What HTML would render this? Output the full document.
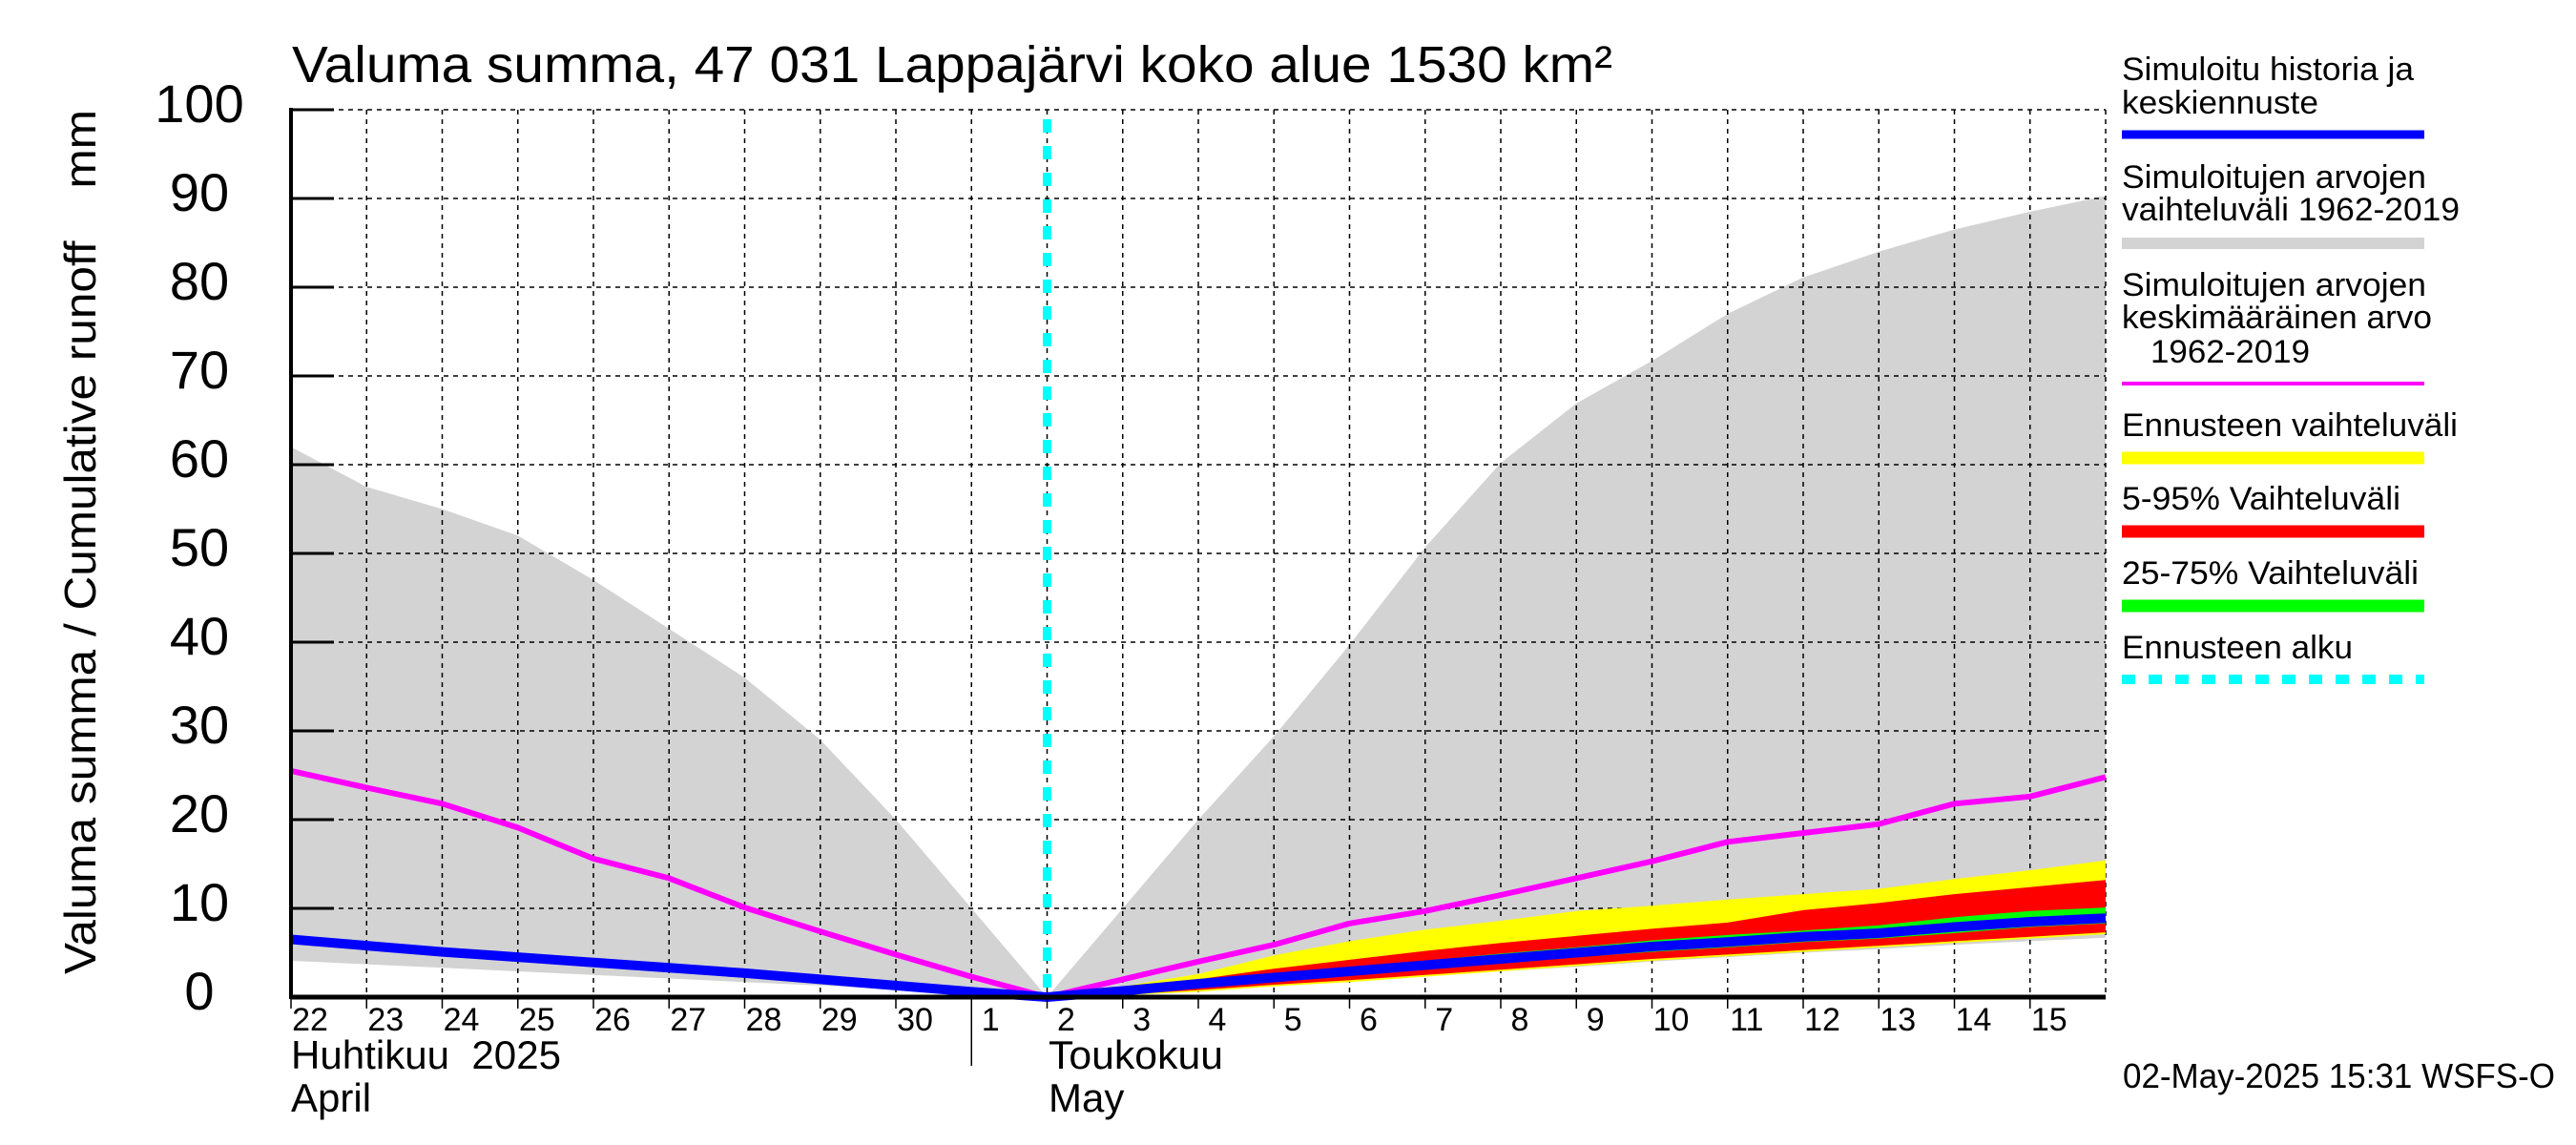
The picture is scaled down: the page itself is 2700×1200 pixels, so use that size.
<!DOCTYPE html>
<html><head><meta charset="utf-8"><style>
html,body{margin:0;padding:0;background:#fff;}
svg{display:block;}
text{font-family:"Liberation Sans",sans-serif;fill:#000;}
</style></head><body>
<svg id="chart" xmlns="http://www.w3.org/2000/svg" width="2700" height="1200" viewBox="0 0 2700 1200">
<rect x="0" y="0" width="2700" height="1200" fill="#fff"/>
<g id="plot"></g>
<text x="306" y="86" font-size="54" textLength="1384" lengthAdjust="spacingAndGlyphs">Valuma summa, 47 031 Lappajärvi koko alue 1530 km²</text>
<text transform="translate(100,568) rotate(-90)" text-anchor="middle" font-size="46" textLength="906" lengthAdjust="spacingAndGlyphs" xml:space="preserve">Valuma summa / Cumulative runoff    mm</text>
<text x="305" y="1120" font-size="42" textLength="283" lengthAdjust="spacingAndGlyphs" xml:space="preserve">Huhtikuu  2025</text>
<text x="305" y="1165" font-size="42">April</text>
<text x="1099" y="1120" font-size="42" textLength="183" lengthAdjust="spacingAndGlyphs">Toukokuu</text>
<text x="1099" y="1165" font-size="42">May</text>
<text x="2225" y="1140" font-size="36" textLength="453" lengthAdjust="spacingAndGlyphs">02-May-2025 15:31 WSFS-O</text>
<g id="legend"></g>
</svg>
<script>
// Data: day index 0 = 22 Apr 00:00 ... 24 = 16 May 00:00
const dayLabels = ["22","23","24","25","26","27","28","29","30","1","2","3","4","5","6","7","8","9","10","11","12","13","14","15"];
const yTicks = [0,10,20,30,40,50,60,70,80,90,100];
const grayUpper = [62,57.5,55,52,47,41.5,36,29,20,10,0,10,20,29.4,39.7,50.7,60.2,66.9,71.7,77,81.1,84,86.5,88.5,90.3];
const grayLower = [4.1,3.7,3.3,2.9,2.5,2.1,1.7,1.3,0.9,0.5,0,0.4,0.9,1.4,1.9,2.4,2.9,3.4,4.0,4.5,5.0,5.4,5.9,6.3,6.7];
const meanSeries = [25.5,23.6,21.8,19.1,15.6,13.4,10.1,7.4,4.8,2.3,0,2.0,4.0,5.9,8.3,9.7,11.5,13.4,15.3,17.5,18.5,19.5,21.8,22.6,24.8];
const historySeries = [6.5,5.8,5.1,4.5,3.9,3.3,2.7,2.0,1.3,0.6,0];
const forecastStart = 10;
const medianSeries = [0,0.7,1.5,2.2,2.9,3.6,4.3,5.0,5.7,6.2,6.8,7.2,7.9,8.5,8.9];
const yellowTop = [0,1.2,2.6,4.7,6.3,7.6,8.6,9.7,10.3,11.0,11.6,12.2,13.3,14.3,15.4];
const yellowBottom = [0,0.2,0.6,1.2,1.7,2.3,2.9,3.5,4.1,4.6,5.1,5.6,6.1,6.6,7.1];
const redTop = [0,0.9,2.0,3.2,4.2,5.2,6.1,6.9,7.7,8.4,9.8,10.6,11.6,12.4,13.2];
const redBottom = [0,0.3,0.8,1.4,1.9,2.5,3.1,3.7,4.3,4.8,5.3,5.8,6.3,6.8,7.3];
const greenTop = [0,0.9,1.8,2.6,3.4,4.1,4.9,5.6,6.4,7.0,7.5,8.1,9.0,9.7,10.1];
const greenBottom = [0,0.5,1.2,1.9,2.5,3.1,3.8,4.5,5.1,5.6,6.2,6.6,7.2,7.9,8.3];

const X0=305, DAY=79.25, Y0=1045, YS=9.3, XR=2207, YT=115;
const xs = i => X0 + i*DAY;
const ys = v => Y0 - v*YS;
const NS="http://www.w3.org/2000/svg";
const plot=document.getElementById('plot');
function mk(tag, attrs, parent){const e=document.createElementNS(NS,tag);for(const k in attrs)e.setAttribute(k,attrs[k]);(parent||plot).appendChild(e);return e;}
function pts(arr, off){return arr.map((v,i)=>xs(i+off).toFixed(1)+","+ys(v).toFixed(1));}
function band(top,bot,off,fill,name){
  const p=pts(top,off).concat(pts(bot,off).reverse()).join(" ");
  const e=mk('polygon',{points:p,fill:fill});
  
  
}
function line(arr,off,color,w,name){
  const e=mk('polyline',{points:pts(arr,off).join(" "),fill:"none",stroke:color,"stroke-width":w,"stroke-linejoin":"round"});
  
  
}
band(grayUpper,grayLower,0,"#d3d3d3","historical-range-band");
for(let i=1;i<=24;i++){
  const g=mk('line',{x1:xs(i),y1:YT,x2:xs(i),y2:Y0,stroke:"#000","stroke-width":1.5,"stroke-dasharray":"5,5"});
  
  
}
yTicks.forEach(t=>{
  if(t===0)return;
  const g=mk('line',{x1:X0,y1:ys(t),x2:XR,y2:ys(t),stroke:"#000","stroke-width":1.5,"stroke-dasharray":"5,5"});
  
  
});
band(yellowTop,yellowBottom,forecastStart,"#ffff00","forecast-range-band");
band(redTop,redBottom,forecastStart,"#ff0000","forecast-5-95-band");
band(greenTop,greenBottom,forecastStart,"#00ff00","forecast-25-75-band");
line(meanSeries,0,"#ff00ff",6,"mean-line");
line(historySeries,0,"#0000ff",10,"history-line");
line(medianSeries,forecastStart,"#0000ff",10,"median-forecast-line");
const fs=mk('line',{x1:xs(forecastStart),y1:125,x2:xs(forecastStart),y2:Y0,stroke:"#00ffff","stroke-width":9,"stroke-dasharray":"14,14"});


const ax1=mk('line',{x1:X0,y1:YT-2,x2:X0,y2:Y0+2,stroke:"#000","stroke-width":4});


const ax2=mk('line',{x1:X0,y1:Y0,x2:XR,y2:Y0,stroke:"#000","stroke-width":5});


yTicks.forEach(t=>{
  const tk=mk('line',{x1:X0,y1:ys(t),x2:350,y2:ys(t),stroke:"#000","stroke-width":3});
  
  
  const tx=mk('text',{x:209,y:ys(t)+13,"font-size":56,"text-anchor":"middle"});
  tx.textContent=String(t);
  
  
});
dayLabels.forEach((d,i)=>{
  const tk=mk('line',{x1:xs(i),y1:Y0,x2:xs(i),y2:(i===9?1117:1057),stroke:"#000","stroke-width":1.5});
  
  
  const tx=mk('text',{x:xs(i)+20,y:1080,"font-size":34,"text-anchor":"middle"});
  tx.textContent=d;
  
  
});
const leg=document.getElementById('legend');
const legText=[["Simuloitu historia ja",2224,84,306],["keskiennuste",2224,119,206],["Simuloitujen arvojen",2224,197,319],["vaihteluväli 1962-2019",2224,231,354],["Simuloitujen arvojen",2224,310,319],["keskimääräinen arvo",2224,344,325],["1962-2019",2254,380,167],["Ennusteen vaihteluväli",2224,457,352],["5-95% Vaihteluväli",2224,534,292],["25-75% Vaihteluväli",2224,612,311],["Ennusteen alku",2224,690,242]];
legText.forEach(r=>{
  const t=mk('text',{x:r[1],y:r[2],"font-size":34,textLength:r[3],lengthAdjust:"spacingAndGlyphs"},leg);
  t.textContent=r[0];
  
  
});
const legLines=[[141,"#0000ff",9,"legend-history-swatch"],[255,"#d3d3d3",12,"legend-range-swatch"],[402,"#ff00ff",4,"legend-mean-swatch"],[480,"#ffff00",13,"legend-forecast-range-swatch"],[557,"#ff0000",13,"legend-5-95-swatch"],[635,"#00ff00",13,"legend-25-75-swatch"]];
legLines.forEach(r=>{
  const l=mk('line',{x1:2224,y1:r[0],x2:2541,y2:r[0],stroke:r[1],"stroke-width":r[2]},leg);
  
  
});
const lc=mk('line',{x1:2224,y1:712,x2:2541,y2:712,stroke:"#00ffff","stroke-width":10,"stroke-dasharray":"14,14"},leg);


</script>
</body></html>
